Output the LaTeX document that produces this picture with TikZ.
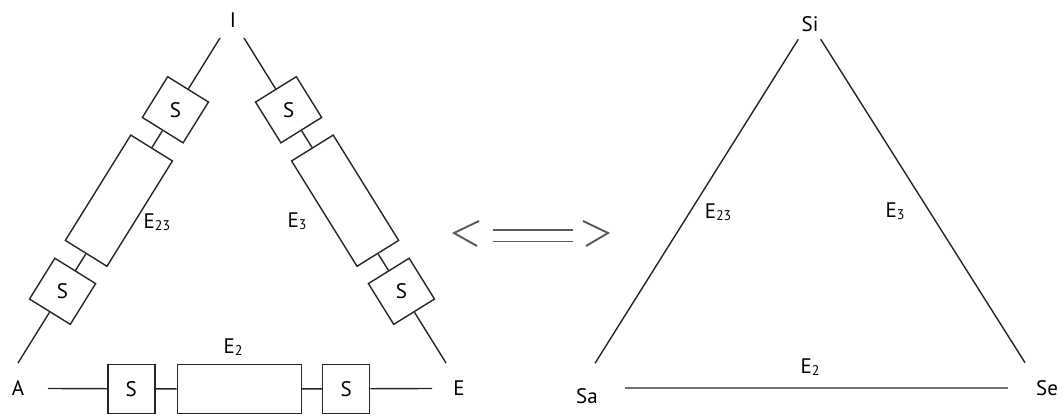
\documentclass[tikz,border=0pt]{standalone}
\usepackage{fontspec}
\setmainfont{PT Sans}
\usetikzlibrary{calc}
\newcommand\mysub[1]{{\fontsize{7}{8}\selectfont\raisebox{-0.35ex}{#1}}}
\begin{document}
\begin{tikzpicture}[x=0.5pt,y=-0.5pt,
  edge/.style={draw=black!85, line width=0.7pt},
  sbox/.style={draw=black!85, line width=0.7pt, minimum width=24pt, minimum height=24pt, inner sep=0pt, font=\fontsize{10.5}{12}\selectfont},
  ebox/.style={draw=black!85, line width=0.7pt, minimum width=62pt, minimum height=24.5pt, inner sep=0pt},
  lbl/.style={inner sep=0pt, font=\fontsize{10.5}{12}\selectfont},
  grayedge/.style={draw=black!55, line width=1pt},
  sym/.style={draw=black!65, line width=0.95pt}]
\useasboundingbox (0,0) rectangle (1064,416);
% ---------- left triangle ----------
\node[lbl] (I) at (233,20) {I};
\node[lbl] (A) at (18,388) {A};
\node[lbl] (E) at (459,388) {E};
\coordinate (lt) at (220,38);
\coordinate (lb) at (18,363);
\coordinate (rt) at (244,38);
\coordinate (rb) at (446,363);
\coordinate (bl) at (48,388.5);
\coordinate (br) at (432,388.5);
% left edge
\node[sbox, rotate=58.14] (ls1) at ($(lt)!0.2208!(lb)$) {\rotatebox{-58.14}{S}};
\node[ebox, rotate=58.14] (le) at ($(lt)!0.5006!(lb)$) {};
\node[sbox, rotate=58.14] (ls2) at ($(lt)!0.7794!(lb)$) {\rotatebox{-58.14}{S}};
\draw[edge] (lt) -- (ls1) -- (le) -- (ls2) -- (lb);
% right edge
\node[sbox, rotate=-58.14] (rs1) at ($(rt)!0.2208!(rb)$) {\rotatebox{58.14}{S}};
\node[ebox, rotate=-58.14] (re) at ($(rt)!0.5006!(rb)$) {};
\node[sbox, rotate=-58.14] (rs2) at ($(rt)!0.7794!(rb)$) {\rotatebox{58.14}{S}};
\draw[edge] (rt) -- (rs1) -- (re) -- (rs2) -- (rb);
% bottom edge
\node[sbox, minimum width=23.5pt, minimum height=24.5pt] (bs1) at (131.3,388.8) {S};
\node[ebox] (be) at (239.2,388.8) {};
\node[sbox, minimum width=23.5pt, minimum height=24.5pt] (bs2) at (346.2,388.8) {S};
\draw[edge] (bl) -- (bs1) -- (be) -- (bs2) -- (br);
% labels
\node[lbl] (lE23) at (157,222) {E\mysub{23}};
\node[lbl] (lE3) at (297,221) {E\mysub{3}};
\node[lbl] (lE2) at (233,347) {E\mysub{2}};
% ---------- equivalence symbol ----------
\draw[sym] (479,221) -- (454,233) -- (477,246);
\draw[sym] (493,230) -- (573,230);
\draw[sym] (493,241.5) -- (573,241.5);
\draw[sym] (583,221) -- (608,233) -- (586,246);
% ---------- right triangle ----------
\node[lbl] (Si) at (810,24) {Si};
\node[lbl] (Sa) at (587,396) {Sa};
\node[lbl] (Se) at (1047,388) {Se};
\coordinate (st1) at (798.3,39.3);
\coordinate (sb1) at (595,363.3);
\coordinate (st2) at (820.7,39.3);
\coordinate (sb2) at (1025,362.7);
\coordinate (sl) at (625,388.3);
\coordinate (sr) at (1008,388.3);
\draw[edge] (st1) -- (sb1);
\draw[edge] (st2) -- (sb2);
\draw[grayedge] (sl) -- (sr);
\node[lbl] (rE23) at (718,212) {E\mysub{23}};
\node[lbl] (rE3) at (895,211) {E\mysub{3}};
\node[lbl] (rE2) at (810,367) {E\mysub{2}};
\end{tikzpicture}
\end{document}
